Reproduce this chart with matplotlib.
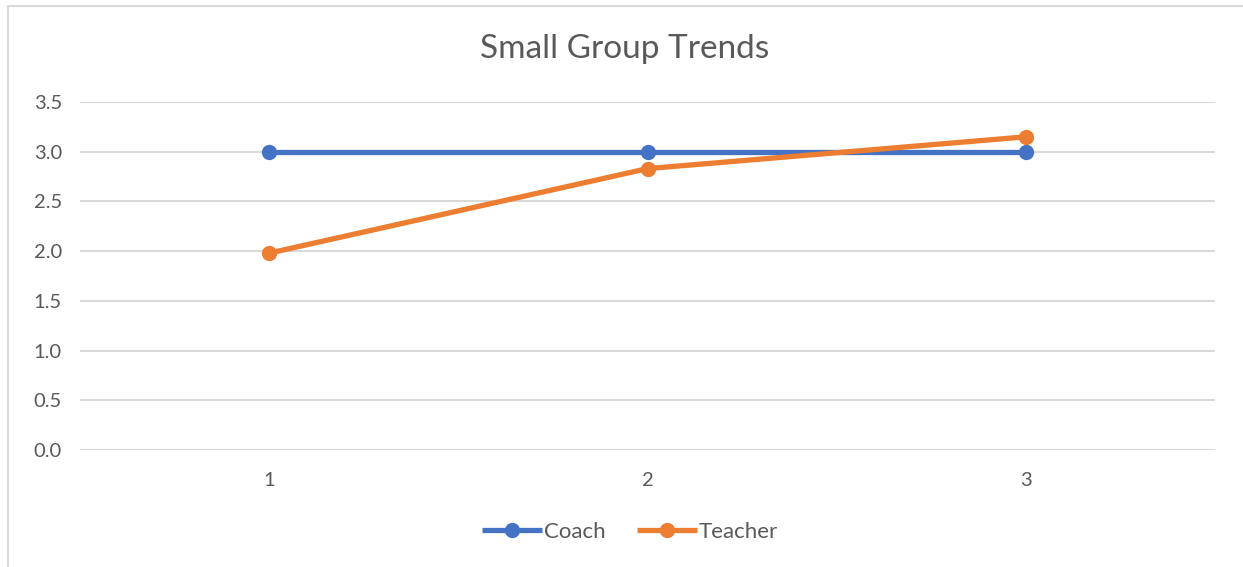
import matplotlib
matplotlib.use("Agg")
import matplotlib.pyplot as plt
from matplotlib.patches import Rectangle

# data
categories = [1, 2, 3]
coach = [3.0, 3.0, 3.0]
teacher = [1.98, 2.83, 3.15]
y_ticks = [0.0, 0.5, 1.0, 1.5, 2.0, 2.5, 3.0, 3.5]

plt.rcParams['font.family'] = ['Lato', 'DejaVu Sans']
text_grey = '#595959'

fig = plt.figure(figsize=(12.43, 5.67), dpi=100)
ax = fig.add_axes([80 / 1243, 1 - 450 / 567, 1135 / 1243, 348 / 567])

# light chart frame; only its top and left edges fall inside the picture
fig.patches.append(Rectangle((7.5 / 1243, -0.1), 1.2, 1.1 - 5.5 / 567,
                             transform=fig.transFigure, fill=False,
                             edgecolor='#d9d9d9', linewidth=1.5))

ax.plot(categories, coach, color='#4472C4', lw=3.8, marker='o', ms=10,
        label='Coach', solid_capstyle='butt', zorder=3)
ax.plot(categories, teacher, color='#ED7D31', lw=3.8, marker='o', ms=10,
        label='Teacher', solid_capstyle='butt', zorder=3)

ax.set_xlim(0.5, 3.5)
ax.set_ylim(0, 3.5)
ax.set_xticks(categories)
ax.set_yticks(y_ticks)
ax.set_yticklabels([f'{v:.1f}' for v in y_ticks])
ax.yaxis.grid(True, color='#d9d9d9', lw=1.5)
ax.set_axisbelow(True)
for s in ax.spines.values():
    s.set_visible(False)
ax.tick_params(length=0, labelsize=14.5, labelcolor=text_grey)
ax.tick_params(axis='y', pad=13)
ax.tick_params(axis='x', pad=16)

fig.text(625 / 1243, 1 - 49 / 567, 'Small Group Trends', ha='center', va='center',
         fontsize=24, color=text_grey)

fig.legend(loc='center', bbox_to_anchor=(630 / 1243, 1 - 532 / 567), ncol=2,
           frameon=False, fontsize=16, labelcolor=text_grey,
           handlelength=2.7, handletextpad=0.1, columnspacing=1.4)

fig.savefig('out.png', dpi=100)
